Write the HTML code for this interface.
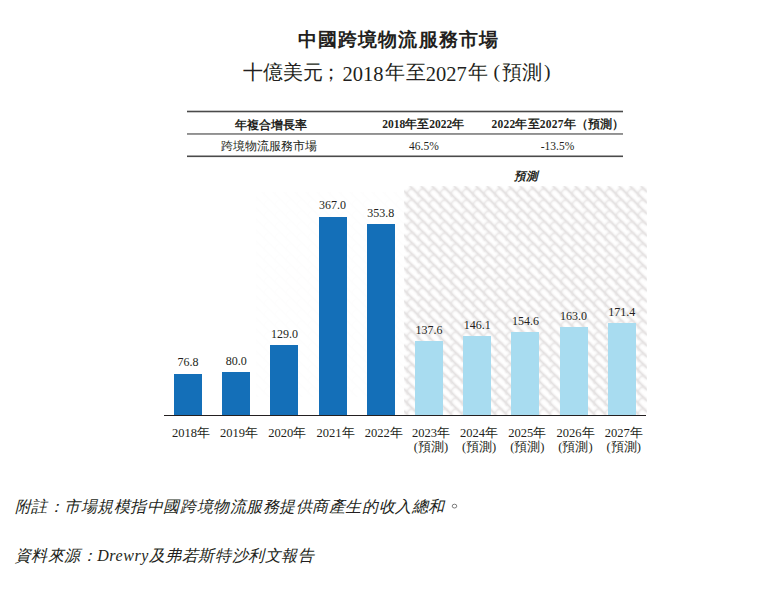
<!DOCTYPE html>
<html lang="zh-Hant"><head><meta charset="utf-8">
<style>
html,body{margin:0;padding:0}
body{width:759px;height:596px;background:#fff;position:relative;overflow:hidden;font-family:"Liberation Serif",serif;color:#231f20}
.a{position:absolute;white-space:nowrap;line-height:1}
.hl{position:absolute;left:187px;width:436px;background:#3a3a3a}
.bar{position:absolute;width:28px;bottom:181px}
.d{background:#146fb8}
.l{background:#a8dcf0}
.v{position:absolute;width:60px;text-align:center;font-size:12px;line-height:1;white-space:nowrap}
.x{position:absolute;width:60px;text-align:center;font-size:12.5px;line-height:13.8px;white-space:nowrap;top:427px}
.note{position:absolute;left:14.5px;font-size:16px;letter-spacing:0.55px;font-style:italic;line-height:1;white-space:nowrap}
.s{font-size:19.5px}
.sd{font-size:20.5px}
.tb{font-size:11.5px;font-weight:600}
.tr{font-size:11.5px}
</style></head><body>

<div class="a" style="left:298px;top:30.5px;font-size:18.5px;font-weight:bold;letter-spacing:1.1px">中國跨境物流服務市場</div>

<div class="a s" style="left:243px;top:63px;letter-spacing:0.1px">十億美元</div>
<div class="a s" style="left:321.3px;top:63px">；</div>
<div class="a sd" style="left:342.4px;top:63.5px">2018</div>
<div class="a s" style="left:385.4px;top:63px">年</div>
<div class="a s" style="left:406.2px;top:63px">至</div>
<div class="a sd" style="left:425.7px;top:63.5px">2027</div>
<div class="a s" style="left:468.2px;top:63px">年</div>
<div class="a s" style="left:493.5px;top:62px">(</div>
<div class="a s" style="left:501.5px;top:63px">預測</div>
<div class="a s" style="left:544px;top:62px">)</div>

<svg style="position:absolute;left:0;top:0" width="759" height="200">
<rect x="187" y="110.7" width="436" height="1.6" fill="#4a4a4a"/>
<rect x="187" y="133" width="436" height="1.9" fill="#909090"/>
<rect x="187" y="155.5" width="436" height="1.6" fill="#4a4a4a"/>
</svg>

<div class="a tb" style="left:235px;top:119.5px">年複合增長率</div>
<div class="a tb" style="left:382.2px;top:119px">2018年至2022年</div>
<div class="a tb" style="left:491.6px;top:119px;letter-spacing:0.2px">2022年至2027年（預測）</div>
<div class="a tr" style="left:220.5px;top:141px;font-weight:500">跨境物流服務市場</div>
<div class="a tr" style="left:409px;top:140.6px">46.5%</div>
<div class="a tr" style="left:540.7px;top:140.6px">-13.5%</div>

<div class="a" style="left:514px;top:171px;font-size:11.5px;font-weight:bold;font-style:italic">預測</div>

<svg style="position:absolute;left:0;top:0" width="759" height="596">
<defs>
<pattern id="h" x="404" y="186" width="11" height="11" patternUnits="userSpaceOnUse">
<g fill="none" stroke-linecap="round">
<path d="M-1 -7 L12 6 M-6 -1 L7 12" stroke="#d4d0d0" stroke-width="1.3"/>
<path d="M-7.67 -0.62 A5.5 5.5 0 0 1 -0.62 -7.67 M-7.67 10.38 A5.5 5.5 0 0 1 -0.62 3.33 M-7.67 21.38 A5.5 5.5 0 0 1 -0.62 14.33 M3.33 -0.62 A5.5 5.5 0 0 1 10.38 -7.67 M3.33 10.38 A5.5 5.5 0 0 1 10.38 3.33 M3.33 21.38 A5.5 5.5 0 0 1 10.38 14.33 M14.33 -0.62 A5.5 5.5 0 0 1 21.38 -7.67 M14.33 10.38 A5.5 5.5 0 0 1 21.38 3.33 M14.33 21.38 A5.5 5.5 0 0 1 21.38 14.33" stroke="#e0dcdc" stroke-width="1.2"/>
</g></pattern>
<filter id="bl" x="0" y="0" width="1" height="1"><feGaussianBlur stdDeviation="0.85"/></filter>
</defs>
<rect x="256" y="192" width="148" height="205" fill="url(#h)" opacity="0.05"/>
<rect x="404" y="186" width="243" height="229" fill="url(#h)" filter="url(#bl)"/>
<rect x="404" y="186" width="243" height="229" fill="url(#h)" opacity="0.3"/>
</svg>

<div class="bar d" style="left:174px;height:41.4px"></div>
<div class="bar d" style="left:222.2px;height:43.2px"></div>
<div class="bar d" style="left:270.4px;height:69.6px"></div>
<div class="bar d" style="left:318.6px;height:198px"></div>
<div class="bar d" style="left:366.8px;height:190.9px"></div>
<div class="bar l" style="left:415px;height:74.2px"></div>
<div class="bar l" style="left:463.2px;height:78.8px"></div>
<div class="bar l" style="left:511.4px;height:83.4px"></div>
<div class="bar l" style="left:559.6px;height:87.9px"></div>
<div class="bar l" style="left:607.8px;height:92.5px"></div>

<div style="position:absolute;left:164px;top:414.8px;width:482px;height:1.2px;background:#231f20"></div>

<div class="v" style="left:158px;top:356px">76.8</div>
<div class="v" style="left:206.2px;top:355px">80.0</div>
<div class="v" style="left:254.4px;top:328.2px">129.0</div>
<div class="v" style="left:302.6px;top:199.3px">367.0</div>
<div class="v" style="left:350.8px;top:207.2px">353.8</div>
<div class="v" style="left:399px;top:324px">137.6</div>
<div class="v" style="left:447.2px;top:319px">146.1</div>
<div class="v" style="left:495.4px;top:315px">154.6</div>
<div class="v" style="left:543.6px;top:310px">163.0</div>
<div class="v" style="left:591.8px;top:306px">171.4</div>

<div class="x" style="left:160.9px">2018年</div>
<div class="x" style="left:209.1px">2019年</div>
<div class="x" style="left:257.3px">2020年</div>
<div class="x" style="left:305.5px">2021年</div>
<div class="x" style="left:353.7px">2022年</div>
<div class="x" style="left:400.9px">2023年<br>(預測)</div>
<div class="x" style="left:449.1px">2024年<br>(預測)</div>
<div class="x" style="left:497.3px">2025年<br>(預測)</div>
<div class="x" style="left:545.5px">2026年<br>(預測)</div>
<div class="x" style="left:593.7px">2027年<br>(預測)</div>

<div class="note" style="top:498.6px">附註：市場規模指中國跨境物流服務提供商產生的收入總和</div>
<svg style="position:absolute;left:0;top:490px" width="759" height="30"><ellipse cx="454.5" cy="16.1" rx="2.3" ry="1.9" fill="none" stroke="#666" stroke-width="0.85"/></svg>
<div class="note" style="top:548.4px">資料來源：Drewry及弗若斯特沙利文報告</div>

</body></html>
